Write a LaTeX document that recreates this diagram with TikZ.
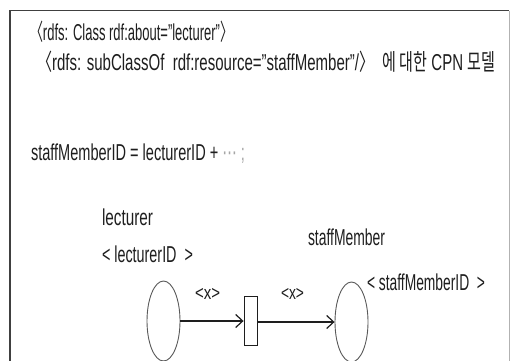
\documentclass[tikz,border=0pt]{standalone}
\usepackage{fontspec}
\usepackage{graphicx}
\setmainfont{Liberation Sans}
\newfontfamily\kr{Noto Sans CJK KR}
\newfontfamily\dv{DejaVu Sans}
\usetikzlibrary{shapes.geometric,arrows.meta}
\definecolor{ink}{HTML}{1E1E1E}
\newcommand\fitw[2]{\resizebox{#1pt}{\height}{#2}}
\tikzset{
  txt/.style={anchor=base west, inner sep=0pt, outer sep=0pt, text=ink, font=\fontsize{23}{23}\selectfont},
  lbl/.style={anchor=base west, inner sep=0pt, outer sep=0pt, text=ink, font=\fontsize{19}{19}\selectfont},
  place/.style={ellipse, draw=black!65, line width=0.9pt, minimum width=33pt, minimum height=80pt, inner sep=0pt},
  trans/.style={rectangle, draw=ink, line width=0.9pt, minimum width=13pt, minimum height=49pt, inner sep=0pt},
  arc/.style={draw=ink, line width=1.4pt, -{Straight Barb[length=7pt,width=13pt,line width=1.2pt]}},
}
\begin{document}
\begin{tikzpicture}[x=1pt,y=-1pt]
\useasboundingbox (0,0) rectangle (510,360);
\fill[white] (0,0) rectangle (510,360);
% frame
\draw[black!75, line width=1.3pt] (10,361) -- (10,10.5) -- (509,10.5);
\draw[black!30, line width=1pt] (509,10.5) -- (509,361);
% header text
\node[txt] (l1) at (30,40) {\fitw{203}{{\kr 〈}rdfs: Class rdf:about=”lecturer”{\kr 〉}}};
\node[txt] (l2) at (37,70) {\fitw{458}{{\kr 〈}rdfs: subClassOf\ \ rdf:resource=”staffMember”/{\kr 〉}\ \ {\kr 에 대한} CPN {\kr 모델}}};
\node[txt] (l3) at (31,160) {\fitw{214}{staffMemberID\ = lecturerID\ + {\color{black!35}\dv ⋯} {\color{black!35};}}};
% place labels
\node[txt] (n1) at (102,225) {\fitw{51}{lecturer}};
\node[txt] (m1) at (102,262) {\fitw{91}{<\ lecturerID\ \ >}};
\node[txt] (n2) at (308,245) {\fitw{77}{staffMember}};
\node[txt] (m2) at (367,290) {\fitw{118}{<\ staffMemberID\ \ >}};
% net
\node[place] (p1) at (163.5,321) {};
\node[place] (p2) at (351.5,322) {};
\node[trans] (t) at (250.5,320.5) {};
\draw[arc] (p1.east) -- (t.west |- p1.east);
\draw[arc] (t.east |- p2.west) -- (p2.west);
\node[lbl] (x1) at (195,299) {\fitw{25}{<x>}};
\node[lbl] (x2) at (281,299) {\fitw{23}{<x>}};
\end{tikzpicture}
\end{document}
